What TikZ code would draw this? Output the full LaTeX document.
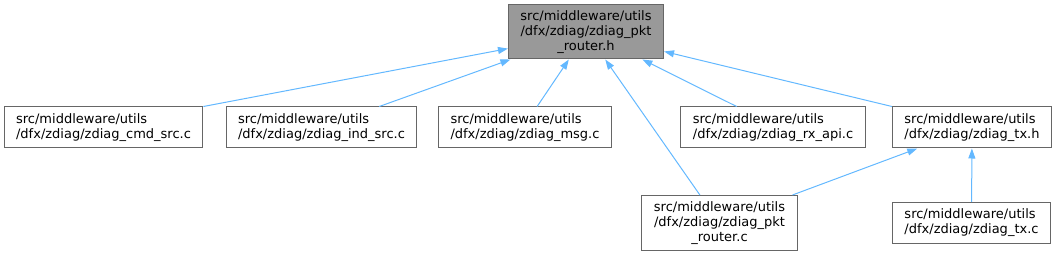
\documentclass[tikz,border=0pt]{standalone}
\usepackage{fontspec}
\setmainfont{DejaVu Sans}
\usetikzlibrary{arrows.meta}
\definecolor{edgeblue}{HTML}{63B8FF}
\definecolor{boxgray}{HTML}{666666}
\definecolor{fillgray}{HTML}{999999}

\tikzset{
  file/.style={draw=boxgray, fill=white, line width=1pt, inner xsep=12pt, inner ysep=0pt,
    minimum height=41pt, align=left, font=\fontsize{13}{15}\selectfont},
  current/.style={file, fill=fillgray, minimum height=54pt, align=center},
  dep/.style={draw=edgeblue, line width=1pt, -{Triangle[length=10pt,width=7pt]}},
}

\begin{document}
\begin{tikzpicture}[x=1pt, y=-1pt]
  \useasboundingbox (0,0) rectangle (1056,256);
  \node[current] (routerh) at (586,32) {src/middleware/utils\\/dfx/zdiag/zdiag\_pkt\\\_router.h};
  \node[file] (cmdsrc) at (103.5,127.5) {src/middleware/utils\\/dfx/zdiag/zdiag\_cmd\_src.c};
  \node[file] (indsrc) at (321.5,127.5) {src/middleware/utils\\/dfx/zdiag/zdiag\_ind\_src.c};
  \node[file] (msg) at (525,127.5) {src/middleware/utils\\/dfx/zdiag/zdiag\_msg.c};
  \node[file] (rxapi) at (773,127.5) {src/middleware/utils\\/dfx/zdiag/zdiag\_rx\_api.c};
  \node[file] (txh) at (972,127.5) {src/middleware/utils\\/dfx/zdiag/zdiag\_tx.h};
  \node[file, minimum height=55pt, align=center] (routerc) at (719.5,223) {src/middleware/utils\\/dfx/zdiag/zdiag\_pkt\\\_router.c};
  \node[file] (txc) at (971.5,223) {src/middleware/utils\\/dfx/zdiag/zdiag\_tx.c};

  \draw[dep] (cmdsrc.north east) -- (routerh.192);
  \draw[dep] (indsrc.20) -- (routerh.200);
  \draw[dep] (msg.60) -- (routerh.238);
  \draw[dep] (routerc.125) -- (routerh.305);
  \draw[dep] (rxapi.150) -- (routerh.334);
  \draw[dep] (txh.north west) -- (routerh.346);
  \draw[dep] (routerc.21) -- (txh.201);
  \draw[dep] (txc) -- (txh);
\end{tikzpicture}
\end{document}
